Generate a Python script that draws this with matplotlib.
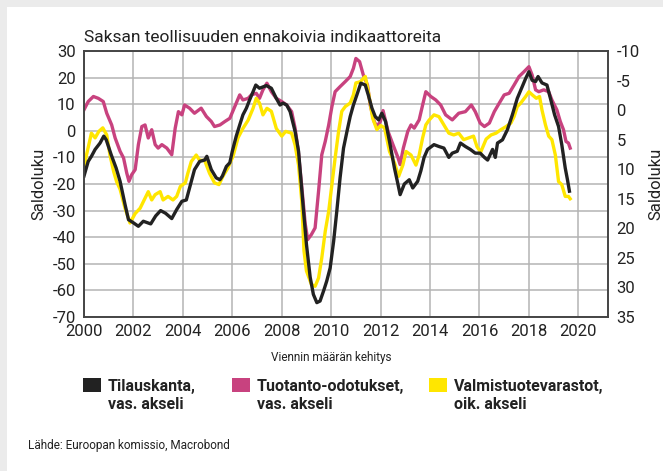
import numpy as np
import matplotlib
matplotlib.use("Agg")
import matplotlib.pyplot as plt
import matplotlib.transforms as mtransforms
from matplotlib.patches import Rectangle

plt.rcParams['font.family'] = ['Roboto', 'DejaVu Sans']
plt.rcParams['axes.unicode_minus'] = False

# Tilauskanta (left axis)
t_black = [2000.0, 2000.17, 2000.3, 2000.45, 2000.65, 2000.8, 2000.9, 2001.1, 2001.3, 2001.46,
           2001.66, 2001.8, 2002.0, 2002.2, 2002.4, 2002.7, 2002.9, 2003.1, 2003.3, 2003.55,
           2003.75, 2003.96, 2004.14, 2004.27, 2004.47, 2004.68, 2004.88, 2004.97, 2005.15, 2005.35,
           2005.5, 2005.6, 2005.76, 2005.9, 2006.0, 2006.16, 2006.3, 2006.43, 2006.57, 2006.7,
           2006.84, 2006.95, 2007.1, 2007.38, 2007.58, 2007.78, 2007.93, 2008.05, 2008.2, 2008.34,
           2008.54, 2008.68, 2008.77, 2008.88, 2009.0, 2009.15, 2009.28, 2009.42, 2009.55, 2009.7,
           2009.82, 2009.96, 2010.1, 2010.23, 2010.36, 2010.5, 2010.64, 2010.77, 2010.9, 2011.04,
           2011.2, 2011.38, 2011.5, 2011.65, 2011.78, 2011.92, 2012.05, 2012.2, 2012.36, 2012.56,
           2012.7, 2012.79, 2012.96, 2013.16, 2013.3, 2013.5, 2013.63, 2013.76, 2013.9, 2014.16,
           2014.36, 2014.56, 2014.76, 2014.9, 2015.1, 2015.23, 2015.43, 2015.63, 2015.83, 2016.03,
           2016.2, 2016.33, 2016.53, 2016.64, 2016.73, 2016.93, 2017.13, 2017.33, 2017.53, 2017.73,
           2017.87, 2018.0, 2018.13, 2018.27, 2018.37, 2018.53, 2018.73, 2018.87, 2019.04, 2019.2,
           2019.33, 2019.47, 2019.56, 2019.64]
v_black = [-17, -11.5, -9.6, -7, -4.6, -2, -3.4, -9, -14, -19,
           -27.7, -33.4, -34.6, -35.9, -34, -35, -32, -30, -31, -33,
           -29.6, -26.5, -26, -21.5, -14.6, -11.5, -11, -9.6, -14.6, -17.7,
           -18.4, -17, -13.4, -12, -7.7, -2, 2.2, 6, 8.5, 11.6,
           14.7, 17.2, 16, 17, 16, 12.2, 9.7, 10.4, 9.7, 7.2,
           -0.2, -7.7, -17.7, -30, -42.7, -55, -61.5, -64.6, -64, -60,
           -56.5, -51.5, -41.5, -30, -17.7, -6.5, -0.2, 5.4, 9.7, 13.5,
           17.9, 17.2, 13.5, 8.5, 5.4, 4.1, 6.6, 3.5, -4, -14,
           -20, -24, -20, -18.4, -21.5, -19, -15, -10, -7, -5.2,
           -5.9, -6.5, -10, -8.4, -7.7, -4.6, -5.9, -7, -8.4, -8.4,
           -10, -11, -7, -10, -4.6, -3.4, 0.4, 6, 12.2, 16.6,
           19.7, 22.2, 19, 18.5, 20.4, 18, 17.2, 12.2, 6, 1.6,
           -5.2, -14, -18.4, -22.7]

# Tuotanto-odotukset (left axis)
t_pink = [2000.0, 2000.17, 2000.38, 2000.58, 2000.78, 2000.92, 2001.12, 2001.26, 2001.46, 2001.6,
          2001.73, 2001.82, 2001.93, 2002.07, 2002.2, 2002.34, 2002.47, 2002.6, 2002.74, 2002.88,
          2003.0, 2003.15, 2003.35, 2003.55, 2003.69, 2003.82, 2003.96, 2004.07, 2004.27, 2004.47,
          2004.74, 2004.95, 2005.15, 2005.28, 2005.5, 2005.7, 2005.9, 2006.1, 2006.3, 2006.43,
          2006.64, 2006.77, 2006.97, 2007.1, 2007.24, 2007.4, 2007.58, 2007.78, 2008.0, 2008.2,
          2008.4, 2008.54, 2008.67, 2008.8, 2008.95, 2009.05, 2009.2, 2009.35, 2009.49, 2009.62,
          2009.76, 2009.9, 2010.03, 2010.16, 2010.36, 2010.57, 2010.77, 2010.9, 2011.0, 2011.15,
          2011.3, 2011.47, 2011.58, 2011.74, 2011.85, 2011.99, 2012.1, 2012.3, 2012.5, 2012.7,
          2012.79, 2012.92, 2013.1, 2013.23, 2013.36, 2013.56, 2013.7, 2013.83, 2014.03, 2014.23,
          2014.43, 2014.63, 2014.9, 2015.16, 2015.43, 2015.67, 2015.83, 2016.03, 2016.2, 2016.4,
          2016.6, 2016.8, 2017.0, 2017.2, 2017.4, 2017.6, 2017.8, 2018.0, 2018.13, 2018.27,
          2018.4, 2018.6, 2018.8, 2018.93, 2019.13, 2019.27, 2019.4, 2019.5, 2019.6, 2019.67]
v_pink = [7.9, 11, 12.9, 12.2, 11, 6.6, 2.2, -2.7, -7.7, -10.2,
          -15.9, -19, -16.5, -14.6, -5.2, 1.6, 2.2, -2.7, 0.4, -5.2,
          -6.5, -5.2, -6.5, -9, 1, 7.2, 6, 9.7, 8.5, 6.6,
          8.5, 5.4, 3.5, 1.6, 2.2, 3.5, 4.7, 9.1, 13.5, 11.6,
          12.2, 13.5, 14.1, 12.2, 15.4, 17.9, 14.7, 12.2, 11, 9.7,
          7.2, 1, -7.7, -20, -35, -40.9, -39, -36.5, -22.7, -9,
          -4, 2.2, 9.1, 14.7, 16.6, 18.5, 20.4, 23.5, 27.2, 26,
          21, 17.2, 9.7, 3.5, 1.6, 3.5, 7.6, -0.2, -5.2, -10,
          -12.7, -6.5, -0.2, 2.2, 1, 4.1, 9.7, 14.7, 12.9, 11.6,
          9.7, 6, 4.1, 6.6, 7.2, 9.7, 7.2, 2.9, 1.6, 2.9,
          7.2, 10.4, 13.5, 14.1, 17.2, 20.4, 22.2, 24.1, 21, 15.4,
          14.7, 15.4, 14.7, 11.6, 7.9, 3.5, 0.4, -4, -4.6, -6.5]

# Valmistuotevarastot (right axis, inverted)
t_yellow = [2000.0, 2000.1, 2000.3, 2000.45, 2000.6, 2000.76, 2000.92, 2001.05, 2001.2, 2001.32,
            2001.46, 2001.66, 2001.86, 2002.07, 2002.27, 2002.47, 2002.6, 2002.74, 2002.88, 2003.08,
            2003.2, 2003.4, 2003.6, 2003.75, 2003.9, 2004.1, 2004.2, 2004.34, 2004.54, 2004.68,
            2004.88, 2005.08, 2005.28, 2005.46, 2005.62, 2005.82, 2006.03, 2006.23, 2006.43, 2006.64,
            2006.84, 2006.97, 2007.1, 2007.24, 2007.4, 2007.58, 2007.78, 2008.0, 2008.16, 2008.4,
            2008.54, 2008.68, 2008.81, 2008.9, 2009.0, 2009.2, 2009.35, 2009.49, 2009.62, 2009.76,
            2009.9, 2010.03, 2010.16, 2010.3, 2010.43, 2010.57, 2010.77, 2010.9, 2011.0, 2011.18,
            2011.38, 2011.5, 2011.68, 2011.85, 2012.0, 2012.16, 2012.36, 2012.56, 2012.73, 2012.9,
            2013.03, 2013.23, 2013.43, 2013.56, 2013.7, 2013.83, 2013.96, 2014.16, 2014.36, 2014.56,
            2014.76, 2014.96, 2015.16, 2015.36, 2015.56, 2015.76, 2015.9, 2016.05, 2016.27, 2016.47,
            2016.67, 2016.87, 2017.07, 2017.27, 2017.4, 2017.53, 2017.67, 2017.87, 2018.0, 2018.13,
            2018.3, 2018.43, 2018.53, 2018.67, 2018.8, 2018.93, 2019.07, 2019.2, 2019.33, 2019.47,
            2019.6, 2019.67]
v_yellow = [9.8, 7.6, 3.9, 4.7, 3.6, 3.0, 4.2, 7.6, 10.4, 12.1,
            13.4, 16.6, 19.1, 17.5, 16.6, 14.9, 13.8, 15.2, 14.3, 13.8,
            15.2, 14.6, 15.2, 14.6, 12.9, 12.3, 10.7, 8.7, 7.6, 8.5,
            8.5, 10.7, 12.3, 12.6, 11.2, 9.8, 7.8, 4.7, 3.1, 1.7,
            -0.3, -2.0, -1.2, 0.8, -0.3, 0.2, 3.1, 4.4, 3.6, 3.9,
            5.9, 9.3, 15.4, 23.8, 27.2, 29.5, 29.8, 28.4, 25.0, 20.5,
            17.1, 12.6, 8.1, 3.6, 0.2, -0.6, -1.2, -2.6, -4.6, -4.8,
            -5.7, -3.2, 1.4, 3.3, 2.6, 3.0, 7.0, 8.9, 11.2, 9.3,
            7.0, 7.6, 9.3, 7.6, 4.7, 2.5, 1.7, 0.8, 1.1, 2.5,
            3.9, 4.2, 3.9, 5.0, 4.7, 4.4, 6.2, 7.1, 4.9, 4.2,
            3.9, 3.3, 2.8, 2.2, 1.1, -0.6, -1.2, -2.3, -3.1, -2.6,
            -2.0, -2.3, 0.0, 2.5, 4.4, 5.0, 7.6, 12.1, 12.6, 14.6,
            14.6, 15.0]

left_ticks = np.arange(-70, 31, 10)
right_ticks = np.arange(-10, 36, 5)
year_ticks = np.arange(2000, 2021, 2)

c_black = '#222222'
c_pink = '#c8427f'
c_yellow = '#ffe600'

fig = plt.figure(figsize=(6.63, 4.71), dpi=100)
fig.patch.set_facecolor('#ebebeb')
fig.add_artist(Rectangle((7 / 663, 0), 1, 1 - 7 / 471, transform=fig.transFigure,
                         facecolor='white', edgecolor='none', zorder=-10))

ax = fig.add_axes([84 / 663, 1 - 317 / 471, (608 - 84) / 663, (317 - 51) / 471])
ax2 = ax.twinx()
ax2.set_ylim(35, -10)
ax2.set_yticks(right_ticks)
ax.set_ylim(-70, 30)
ax.set_yticks(left_ticks)
ax.set_xlim(2000, 2021.2)
ax.set_xticks(year_ticks)
ax.grid(True, color='#b4b4b4', linewidth=1.1)
ax.set_axisbelow(True)

# yellow uses right axis scale but is drawn inside ax so black stays on top
ytrans = mtransforms.blended_transform_factory(ax.transData, ax2.transData)
ax.plot(t_pink, v_pink, color=c_pink, lw=2.4, solid_joinstyle='round')
ax.plot(t_yellow, v_yellow, color=c_yellow, lw=2.4, transform=ytrans, solid_joinstyle='round')
ax.plot(t_black, v_black, color=c_black, lw=2.4, solid_joinstyle='round')

for a in (ax, ax2):
    for s in a.spines.values():
        s.set_color('#444444')
        s.set_linewidth(1.2)
    a.tick_params(length=0, labelsize=12, colors='#222222', pad=6)
ax.tick_params(axis='x', pad=5)

ax.set_ylabel('Saldoluku', fontsize=12, color='#222222', labelpad=4)
ax2.set_ylabel('Saldoluku', fontsize=12, color='#222222', labelpad=6)

fig.text(84 / 663, 1 - 38 / 471, 'Saksan teollisuuden ennakoivia indikaattoreita',
         fontsize=12.5, color='#222222', va='center', ha='left')
fig.text(0.5, 1 - 357 / 471, 'Viennin määrän kehitys', fontsize=8.5,
         color='#222222', ha='center', va='center')

# legend
labels = ['Tilauskanta,\nvas. akseli', 'Tuotanto-odotukset,\nvas. akseli',
          'Valmistuotevarastot,\noik. akseli']
colors = [c_black, c_pink, c_yellow]
box_x = [83, 232, 429]
for bx, col, lab in zip(box_x, colors, labels):
    fig.add_artist(Rectangle((bx / 663, 1 - 392 / 471), 18 / 663, 14 / 471,
                             transform=fig.transFigure, facecolor=col, edgecolor='none'))
    fig.text((bx + 25) / 663, 1 - 379 / 471, lab, fontsize=11.5, fontweight='bold',
             color='#222222', ha='left', va='top', linespacing=1.25)

fig.text(28 / 663, 1 - 445 / 471, 'Lähde: Euroopan komissio, Macrobond', fontsize=8.5,
         color='#222222', ha='left', va='center')

fig.savefig('out.png', dpi=100)
